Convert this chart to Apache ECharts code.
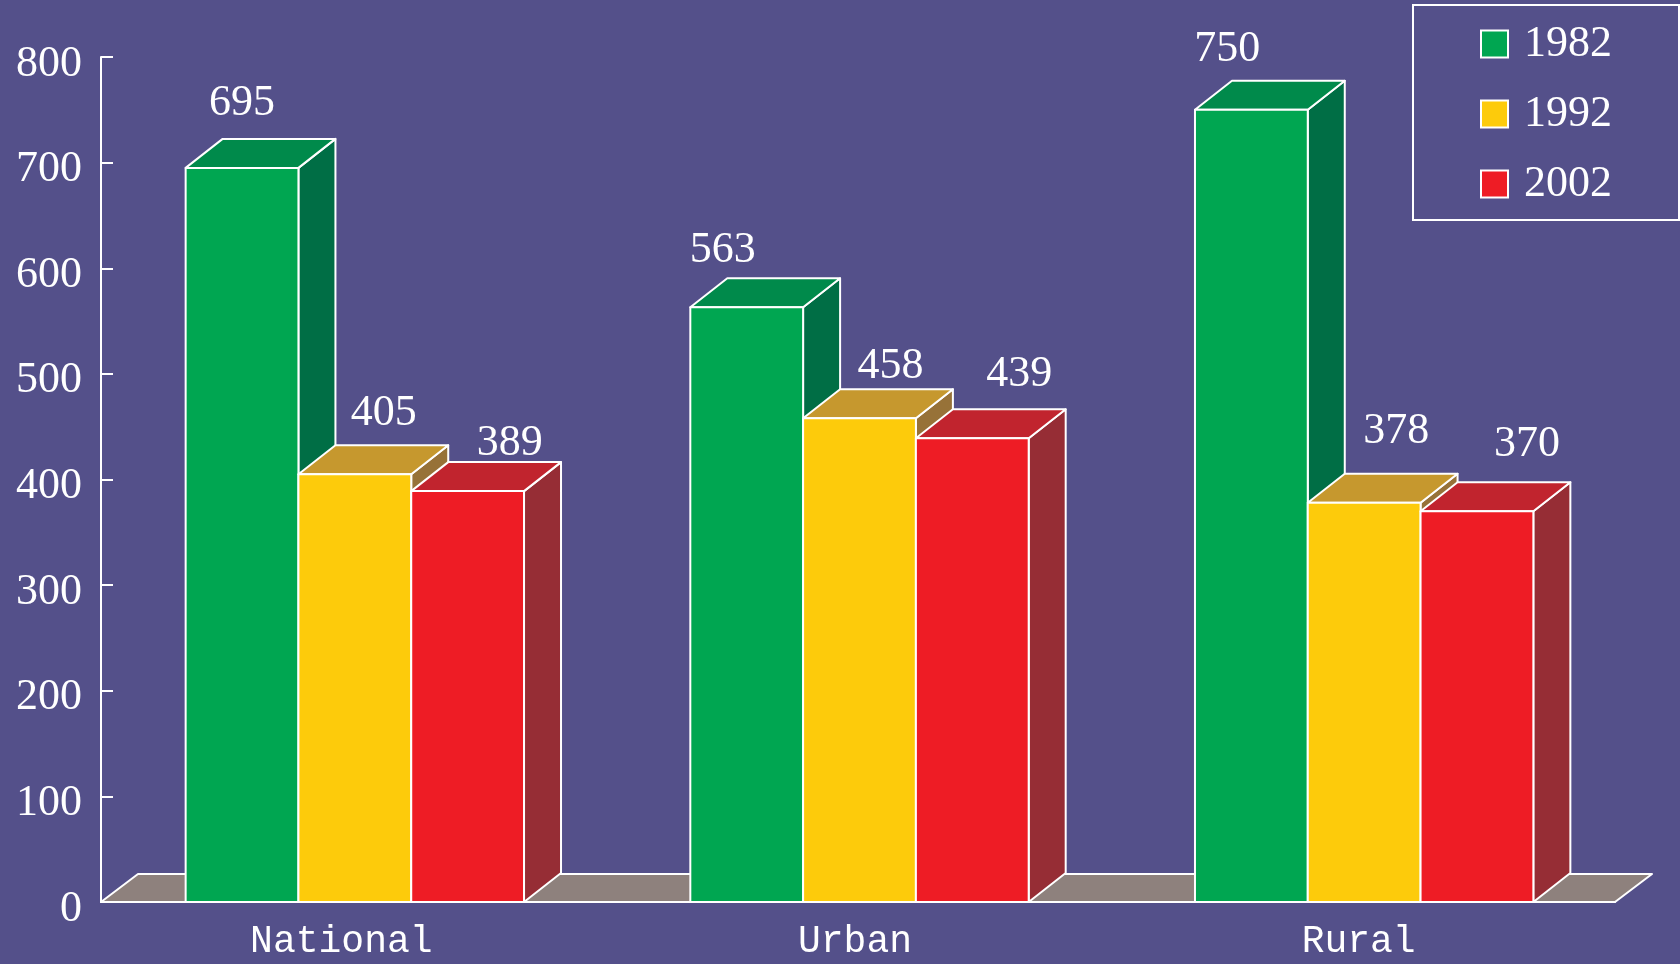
<!DOCTYPE html>
<html>
<head>
<meta charset="utf-8">
<title>National / Urban / Rural 1982–2002</title>
<script src="https://cdn.jsdelivr.net/npm/echarts@6/dist/echarts.min.js"></script>
<style>
  html, body { margin: 0; padding: 0; background: #54508a; }
  #chart { width: 1680px; height: 964px; }
</style>
</head>
<body>
<div id="chart"></div>
<script>
// ---- data ----
const categories = ['National', 'Urban', 'Rural'];
const years = ['1982', '1992', '2002'];
const values1982 = [695, 563, 750];
const values1992 = [405, 458, 378];
const values2002 = [389, 439, 370];
const yTickLabels = ['0', '100', '200', '300', '400', '500', '600', '700', '800'];

// ---- styling ----
const BG = '#54508a';
const FLOOR = '#8e817d';
const DEPTH_X = 37;          // oblique depth of the boxes
const DEPTH_Y = 29;
const BAR_RATIO = 0.2235;    // each bar as a share of the category band
const SERIF = '"Liberation Serif", "DejaVu Serif", serif';
const MONO = '"Liberation Mono", "DejaVu Sans Mono", monospace';
const palettes = [
  { front: '#00a651', top: '#008a4b', side: '#006e45' },
  { front: '#fdcb0b', top: '#c6982e', side: '#977238' },
  { front: '#ee1c25', top: '#c1242e', side: '#962d35' }
];
// label placement: horizontal shift from the front-face centre and rise above its top edge
const labelShift = [[0, -24, -24], [29, 31, 32], [42, 47, 50]];
const labelRise = [[64, 57, 60], [61, 52, 71], [48, 64, 67]];
// per-category nudge of the axis caption (right padding)
const captionPad = [24, 6, 8];

const seriesValues = [values1982, values1992, values2002];

function boxRenderer(s) {
  const pal = palettes[s];
  return function (params, api) {
    const ci = api.value(0);
    const v = api.value(1);
    const base = api.coord([ci, 0]);
    const top = api.coord([ci, v]);
    const band = api.size([1, 0])[0];
    const w = band * BAR_RATIO;
    const x0 = base[0] + (s - 1) * w - w / 2 + 1.5;
    const x1 = x0 + w;
    const yb = base[1];
    const yt = top[1];
    const edge = { stroke: '#ffffff', lineWidth: 2, lineJoin: 'round' };
    return {
      type: 'group',
      children: [
        {
          type: 'polygon',
          shape: { points: [[x1, yt], [x1 + DEPTH_X, yt - DEPTH_Y], [x1 + DEPTH_X, yb - DEPTH_Y], [x1, yb]] },
          style: Object.assign({ fill: pal.side }, edge)
        },
        {
          type: 'polygon',
          shape: { points: [[x0, yt], [x0 + DEPTH_X, yt - DEPTH_Y], [x1 + DEPTH_X, yt - DEPTH_Y], [x1, yt]] },
          style: Object.assign({ fill: pal.top }, edge)
        },
        {
          type: 'rect',
          shape: { x: x0, y: yt, width: w, height: yb - yt },
          style: Object.assign({ fill: pal.front }, edge)
        },
        {
          type: 'text',
          style: {
            text: String(v),
            x: (x0 + x1) / 2 + labelShift[s][ci],
            y: yt - labelRise[s][ci],
            fill: '#ffffff',
            font: '44px ' + SERIF,
            align: 'center',
            verticalAlign: 'middle'
          }
        }
      ]
    };
  };
}

function floorRenderer(params) {
  const cs = params.coordSys;
  const xl = cs.x, xr = cs.x + cs.width, yf = cs.y + cs.height;
  return {
    type: 'polygon',
    shape: { points: [[xl, yf], [xl + DEPTH_X, yf - DEPTH_Y + 1], [xr + DEPTH_X, yf - DEPTH_Y + 1], [xr, yf]] },
    style: { fill: FLOOR, stroke: '#ffffff', lineWidth: 2, lineJoin: 'round' }
  };
}

const barSeries = years.map((yr, s) => ({
  name: yr,
  type: 'custom',
  z: 4 + s,
  itemStyle: { color: palettes[s].front },
  renderItem: boxRenderer(s),
  encode: { x: 0, y: 1 },
  data: seriesValues[s].map((val, i) => [i, val]),
  animation: false
}));

const chart = echarts.init(document.getElementById('chart'), null, { renderer: 'canvas' });
chart.setOption({
  backgroundColor: BG,
  animation: false,
  grid: { left: 101, right: 65, top: 57, bottom: 62, containLabel: false },
  legend: {
    orient: 'vertical',
    left: 1413,
    top: 5,
    padding: [17, 67, 14, 67],
    itemGap: 26,
    itemWidth: 27,
    itemHeight: 27,
    borderColor: '#ffffff',
    borderWidth: 2,
    backgroundColor: BG,
    data: years.map((yr, s) => ({
      name: yr,
      icon: 'rect',
      itemStyle: { color: palettes[s].front, borderColor: '#ffffff', borderWidth: 2 }
    })),
    textStyle: {
      color: '#ffffff',
      fontFamily: SERIF,
      fontSize: 44,
      lineHeight: 44,
      padding: [0, 0, 0, 11]
    }
  },
  xAxis: {
    type: 'category',
    data: categories.map((c, i) => ({ value: c, textStyle: { padding: [0, captionPad[i], 0, 0] } })),
    z: 3,
    boundaryGap: true,
    axisLine: { lineStyle: { color: '#ffffff', width: 2 } },
    axisTick: { inside: true, length: 10, lineStyle: { color: '#ffffff', width: 2 } },
    axisLabel: {
      color: '#ffffff',
      fontFamily: MONO,
      fontSize: 38,
      margin: 21
    }
  },
  yAxis: {
    type: 'value',
    min: 0,
    max: 800,
    interval: 100,
    z: 3,
    splitLine: { show: false },
    axisLine: { show: true, lineStyle: { color: '#ffffff', width: 2 } },
    axisTick: { show: true, inside: true, length: 12, lineStyle: { color: '#ffffff', width: 2 } },
    axisLabel: {
      color: '#ffffff',
      fontFamily: SERIF,
      fontSize: 44,
      margin: 19,
      verticalAlign: 'top',
      lineHeight: 14,
      formatter: (val) => yTickLabels[Math.round(val / 100)]
    }
  },
  series: [
    {
      name: 'floor',
      type: 'custom',
      z: 2,
      silent: true,
      renderItem: floorRenderer,
      data: [[0, 0]],
      animation: false
    }
  ].concat(barSeries)
});
</script>
</body>
</html>
